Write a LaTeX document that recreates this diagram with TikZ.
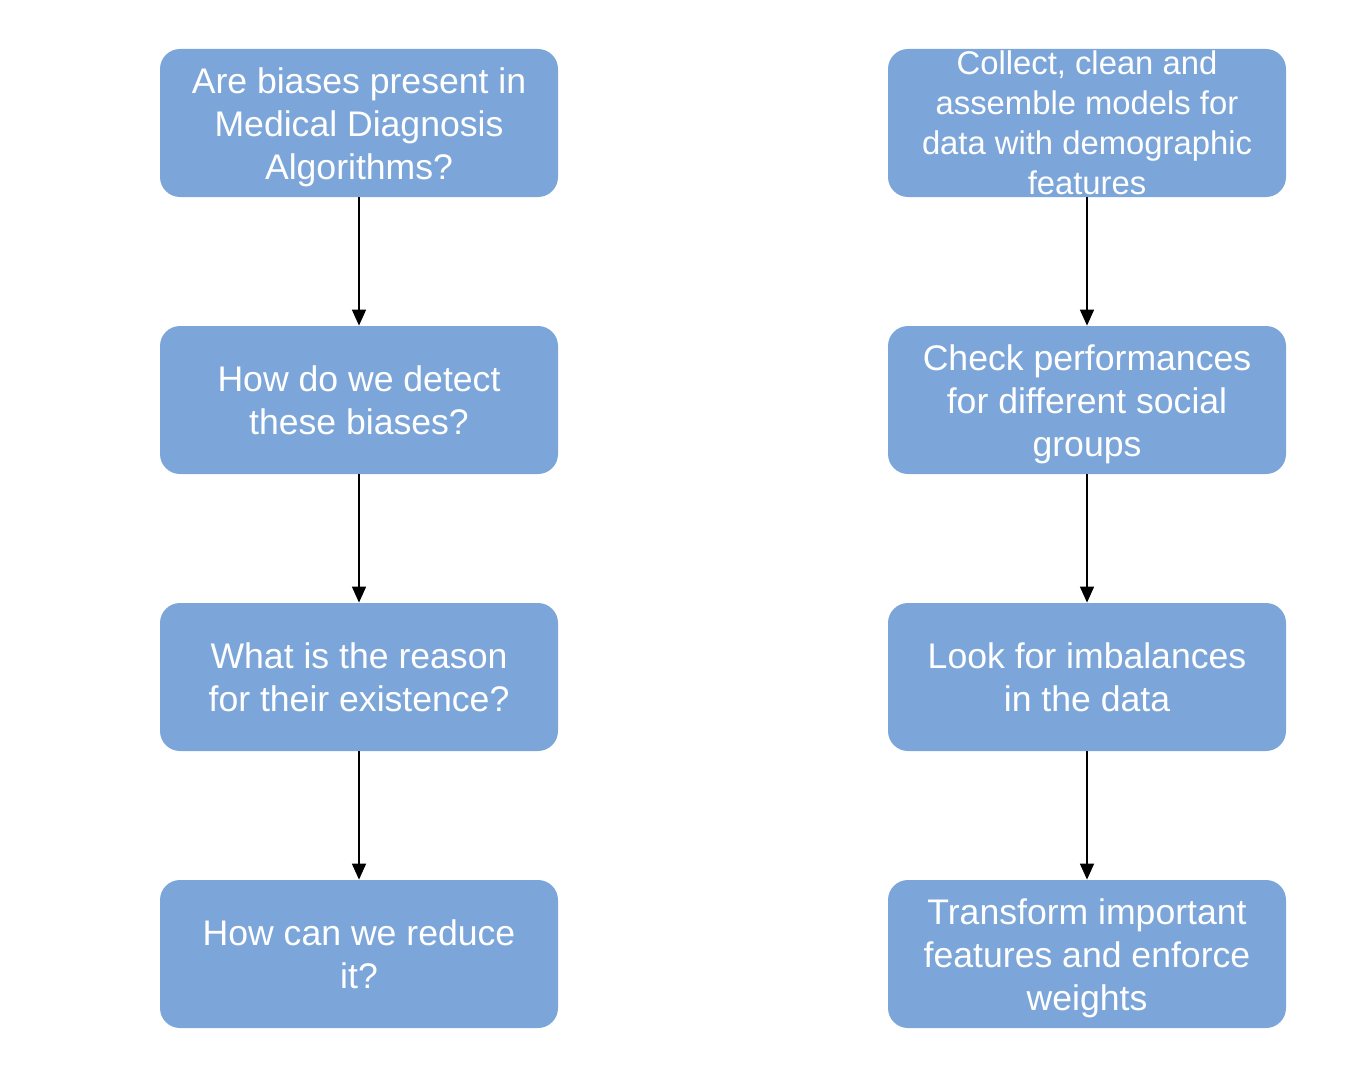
\documentclass[tikz,border=0pt]{standalone}
\usepackage{fontspec}
\setmainfont{Liberation Sans}
\usetikzlibrary{arrows.meta}
\definecolor{boxblue}{RGB}{124,166,217}
\begin{document}
\begin{tikzpicture}[x=0.5pt,y=-0.5pt,
  box/.style={fill=boxblue, draw=none, rounded corners=10pt, minimum width=199pt, minimum height=74pt,
    inner sep=0pt, text=white, font=\fontsize{17.8}{21.5}\selectfont, align=center},
  conn/.style={draw=black, line width=0.8pt, -{Triangle[width=7pt,length=8pt]}}]
\useasboundingbox (0,0) rectangle (1354,1086);
\node[box] (a1) at (359,123) {\\[-4pt]Are biases present in\\Medical Diagnosis\\Algorithms?};
\node[box] (a2) at (359,400) {How do we detect\\these biases?};
\node[box] (a3) at (359,677) {What is the reason\\for their existence?};
\node[box] (a4) at (359,954) {How can we reduce\\it?};
\node[box, font=\fontsize{16.4}{20}\selectfont] (b1) at (1087,123) {Collect, clean and\\assemble models for\\data with demographic\\features};
\node[box] (b2) at (1087,400) {\\[-4pt]Check performances\\for different social\\groups};
\node[box] (b3) at (1087,677) {Look for imbalances\\in the data};
\node[box] (b4) at (1087,954) {\\[-4pt]Transform important\\features and enforce\\weights};
\draw[conn] (a1) -- (a2);
\draw[conn] (a2) -- (a3);
\draw[conn] (a3) -- (a4);
\draw[conn] (b1) -- (b2);
\draw[conn] (b2) -- (b3);
\draw[conn] (b3) -- (b4);
\end{tikzpicture}
\end{document}
